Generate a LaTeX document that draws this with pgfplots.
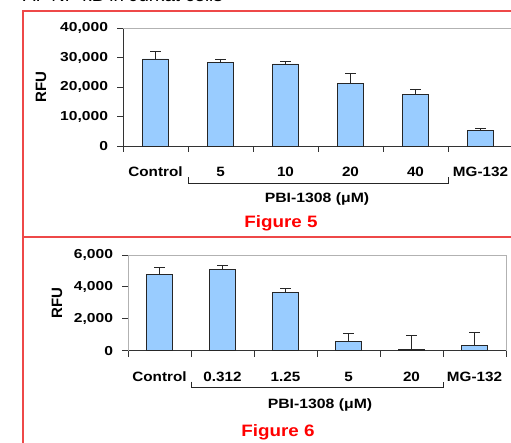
\documentclass[border=0pt]{standalone}
\usepackage{pgfplots}
\pgfplotsset{compat=1.18}
\usepackage{fontspec}
\setmainfont{Liberation Sans}
\definecolor{barblue}{RGB}{153,204,255}
\definecolor{frame}{RGB}{238,72,72}
\definecolor{figred}{RGB}{255,0,0}
\pgfplotsset{
  rfubar/.style={
    scale only axis, anchor=south west,
    xmin=-0.5, xmax=5.5, ymin=0,
    axis x line*=bottom, axis y line*=left,
    axis line style={black!80, line width=0.8pt},
    tick align=outside,
    major tick length=6pt, minor tick length=6pt,
    major x tick style=transparent,
    minor x tick style={black!80, line width=0.8pt},
    major y tick style={black!80, line width=0.8pt},
    minor xtick={-0.5,0.5,1.5,2.5,3.5,4.5,5.5},
    xtick={0,1,2,3,4,5},
    scaled y ticks=false,
    /pgf/number format/1000 sep={,},
    /pgf/number format/assume math mode=true,
    yticklabel style={font=\fontsize{13}{15}\selectfont\bfseries, xscale=1.2, xshift=-4pt},
    xticklabel style={font=\fontsize{13.5}{15}\selectfont\bfseries, xscale=1.13, yshift=-11.5pt},
    ybar, bar width=25.5pt,
    clip=false,
  },
  rfuplot/.style={fill=barblue, draw=black!85, line width=0.75pt,
    error bars/.cd, y dir=plus, y explicit,
    error bar style={black!85, line width=0.75pt},
    error mark options={rotate=90, mark size=5.5pt, line width=0.75pt, black!85}},
}
\pgfplotstableread{
x y e
0 29500 2500
1 28200 1300
2 27800 1000
3 21100 3500
4 17600 1500
5 5300 600
}\figfive
\pgfplotstableread{
x y e
0 4790 410
1 5080 270
2 3640 270
3 570 500
4 60 880
5 310 820
}\figsix
\begin{document}
\begin{tikzpicture}[x=1pt,y=1pt]
\useasboundingbox (0,0) rectangle (511,442);
\clip (0,0) rectangle (511,442);
% cut-off heading (only its lower edge shows, as in the reference)
\node[anchor=base west, font=\fontsize{17}{19}\selectfont, xscale=1.1, inner sep=0pt] at (23,440) {A.\ \ NF-κB in Jurkat cells};
% red frames
\draw[frame, line width=1.5pt] (23,-5) -- (23,431) -- (520,431);
\draw[frame, line width=1.5pt] (23,205) -- (520,205);

% Figure 5
\begin{axis}[rfubar, at={(123pt,296pt)}, width=390pt, height=118pt,
  ymax=40000, ytick={0,10000,20000,30000,40000},
  xticklabels={Control,5,10,20,40,MG-132}]
\addplot[rfuplot] table[x=x, y=y, y error=e] {\figfive};
\draw[gray!60, line width=0.8pt] (rel axis cs:0,1) -- (rel axis cs:1,1);
\end{axis}
\node[rotate=90, font=\fontsize{15}{17}\selectfont\bfseries] at (41,355) {RFU};
\draw[black!85, line width=0.8pt] (188,264.5) -- (188,259) -- (448,259) -- (448,264.5);
\node[anchor=base, font=\fontsize{13.5}{15}\selectfont\bfseries, xscale=1.17] at (317,239.7) {PBI-1308 (μM)};
\node[anchor=base, font=\fontsize{16.5}{18}\selectfont\bfseries, xscale=1.14, text=figred] at (281,214.3) {Figure 5};

% Figure 6
\begin{axis}[rfubar, at={(128pt,91.3pt)}, width=378pt, height=95.7pt,
  ymax=6000, ytick={0,2000,4000,6000},
  xticklabels={Control,0.312,1.25,5,20,MG-132}]
\addplot[rfuplot] table[x=x, y=y, y error=e] {\figsix};
\draw[gray!60, line width=0.8pt] (rel axis cs:0,0) -- (rel axis cs:0,1) -- (rel axis cs:1,1) -- (rel axis cs:1,0);
\end{axis}
\node[rotate=90, font=\fontsize{15}{17}\selectfont\bfseries] at (57,139) {RFU};
\draw[black!85, line width=0.8pt] (191,60.3) -- (191,54.3) -- (443,54.3) -- (443,60.3);
\node[anchor=base, font=\fontsize{13.5}{15}\selectfont\bfseries, xscale=1.17] at (320,34) {PBI-1308 (μM)};
\node[anchor=base, font=\fontsize{16.5}{18}\selectfont\bfseries, xscale=1.14, text=figred] at (278,6) {Figure 6};
\end{tikzpicture}
\end{document}
